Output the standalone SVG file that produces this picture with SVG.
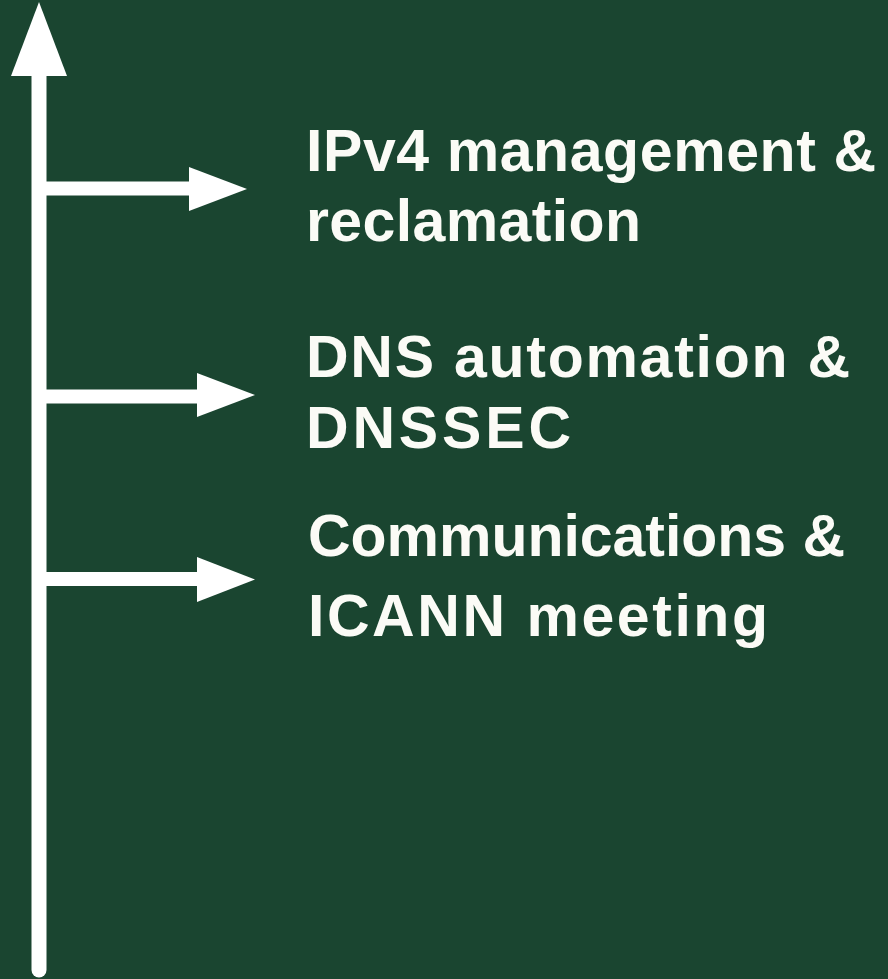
<svg xmlns="http://www.w3.org/2000/svg" width="888" height="979" viewBox="0 0 888 979">
<style>
.bg{fill:#1a4530}
.shaft{stroke:#ffffff;stroke-width:14;fill:none}
.head{fill:#ffffff}
.lbl{font-family:"Liberation Sans",Arial,sans-serif;font-weight:bold;font-size:59px;fill:#fbfbf6}
</style>
<rect class="bg" x="0" y="0" width="888" height="979"/>
<g id="connectors">
<line class="shaft" x1="39" y1="70" x2="39" y2="970" style="stroke-width:15;stroke-linecap:round"/>
<polygon class="head" points="39,2 67,76 11,76"/>
<line class="shaft" x1="40" y1="188.5" x2="192" y2="188.5"/>
<polygon class="head" points="189,167 247,189 189,211"/>
<line class="shaft" x1="40" y1="396.5" x2="200" y2="396.5"/>
<polygon class="head" points="197,373 255,395 197,417"/>
<line class="shaft" x1="40" y1="579" x2="200" y2="579"/>
<polygon class="head" points="197,557 255,579.5 197,602"/>
</g>
<g id="node1"><text class="lbl" x="306" y="171" textLength="570" lengthAdjust="spacing">IPv4 management &amp;</text><text class="lbl" x="306" y="241" textLength="335" lengthAdjust="spacing">reclamation</text></g>
<g id="node2"><text class="lbl" x="306" y="377" textLength="544" lengthAdjust="spacing">DNS automation &amp;</text><text class="lbl" x="306" y="448" textLength="265" lengthAdjust="spacing">DNSSEC</text></g>
<g id="node3"><text class="lbl" x="308" y="556" textLength="537" lengthAdjust="spacing">Communications &amp;</text><text class="lbl" x="308" y="636" textLength="460" lengthAdjust="spacing">ICANN meeting</text></g>
</svg>
